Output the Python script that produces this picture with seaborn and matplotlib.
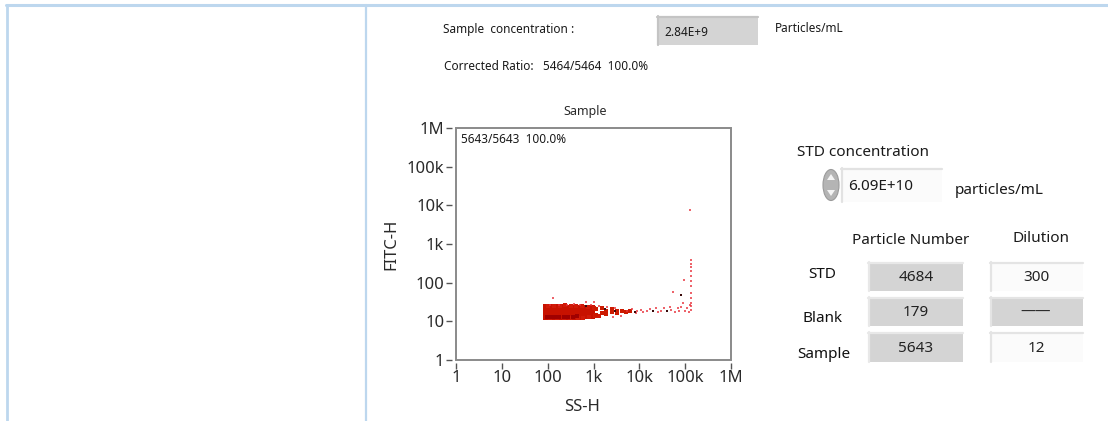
import matplotlib
matplotlib.use("Agg")
import matplotlib.pyplot as plt
import seaborn as sns
import pandas as pd
from matplotlib.patches import Rectangle, Ellipse, Polygon
from matplotlib.lines import Line2D
from matplotlib.ticker import FixedLocator, FixedFormatter, NullLocator

# ---------------- data ----------------
tick_values = [1, 10, 100, 1000, 10000, 100000, 1000000]
tick_labels = ["1", "10", "100", "1k", "10k", "100k", "1M"]

# dense core of the SS-H / FITC-H cloud
core_x = [96, 125, 165, 220, 290, 385, 510, 680, 900,
          96, 125, 165, 220, 290, 385, 510, 680, 900,
          96, 125, 165, 220, 290, 385, 510, 680, 900]
core_y = [13.6, 13.6, 13.6, 13.6, 13.7, 13.8, 14.0, 14.2, 14.6,
          17.0, 17.0, 17.0, 17.0, 17.0, 17.0, 17.0, 17.2, 17.4,
          21.5, 21.5, 21.5, 21.5, 21.3, 21.2, 21.0, 20.8, 20.6]

# darker lower edge of the core
deep_x = [95, 118, 145, 180, 225, 280, 350, 430]
deep_y = [13.0, 13.0, 13.0, 13.1, 13.1, 13.2, 13.3, 13.5]

# ragged border of the core
edge_x = [100, 140, 190, 240, 330, 420, 560, 760, 1050,
          110, 160, 230, 300, 450, 600, 800, 1100, 1300]
edge_y = [24.5, 25.5, 24.8, 25.8, 24.6, 25.2, 24.4, 23.6, 22.5,
          12.0, 12.2, 11.9, 12.3, 12.1, 12.4, 12.8, 13.5, 14.0]

# thinning tail of the cloud
tail_x = [1150, 1150, 1500, 1500, 1900, 1900, 2500, 2500, 3200, 3300, 4200, 5000, 6200]
tail_y = [15, 21, 16.5, 22, 15.5, 19, 17, 20.5, 16.5, 19, 18, 17.5, 18.5]

# sparse events
sparse_x = [110, 132, 180, 260, 380, 520, 700, 1000, 900, 1300, 2000, 2600, 3000,
            4000, 5500, 7000, 8500, 9000, 11000, 12000, 15000, 17000, 20000, 23000,
            25000, 30000, 34000, 40000, 46000, 50000, 54000, 60000, 70000, 75000,
            80000, 88000, 95000, 100000, 110000, 120000,
            135000, 135000, 132000, 136000, 134000, 133000, 137000, 135000,
            136000, 134000, 137000, 135000, 130000, 128000]
sparse_y = [26, 40, 27, 26, 28, 27, 31, 32, 26, 25, 24, 13, 22,
            14, 19, 21, 16, 18, 20, 17, 19, 21, 18, 22,
            17, 19, 22, 18, 24, 20, 59, 17, 22, 18,
            24, 30, 118, 19, 22, 17,
            20, 25, 30, 40, 55, 80, 110, 150,
            200, 250, 300, 390, 26, 7800]

# dark (overlapping) events
dark_x = [700, 1800, 3000, 8000, 20000, 40000, 82000]
dark_y = [25, 21, 18, 17, 18, 19, 48]

events_total = "5643/5643  100.0%"
sample_conc = "2.84E+9"
corrected_ratio = "Corrected Ratio:   5464/5464  100.0%"
std_conc = "6.09E+10"
row_names = ["STD", "Blank", "Sample"]
particle_numbers = ["4684", "179", "5643"]
dilutions = ["300", "\u2014\u2014", "12"]

# ---------------- figure ----------------
sns.set_theme(style="white")
plt.rcParams["font.family"] = ["Noto Sans", "DejaVu Sans"]

W, H = 1108, 421
fig = plt.figure(figsize=(W / 100, H / 100), dpi=100)
fig.patch.set_facecolor("white")


def fx(x):
    return x / W


def fy(y):
    return 1 - y / H


def ftext(x, y, s, size, ha="left", color="#1a1a1a", **kw):
    fig.text(fx(x), fy(y), s, fontsize=size, ha=ha, va="center", color=color, **kw)


def box(x0, y0, x1, y1, face, edge_light):
    fig.add_artist(Rectangle((fx(x0), fy(y1)), fx(x1 - x0), (y1 - y0) / H,
                             transform=fig.transFigure, facecolor=face,
                             edgecolor="none", zorder=1))
    fig.add_artist(Line2D([fx(x0), fx(x1)], [fy(y0 + 1), fy(y0 + 1)],
                          transform=fig.transFigure, color=edge_light, lw=1.6, zorder=2))
    fig.add_artist(Line2D([fx(x0 + 1), fx(x0 + 1)], [fy(y0), fy(y1)],
                          transform=fig.transFigure, color=edge_light, lw=1.6, zorder=2))


# frame lines of the screenshot panel
line_c = "#bdd7ee"
fig.add_artist(Line2D([fx(6), fx(1108)], [fy(5), fy(5)], transform=fig.transFigure,
                      color=line_c, lw=2.2))
fig.add_artist(Line2D([fx(7), fx(7)], [fy(5), fy(421)], transform=fig.transFigure,
                      color=line_c, lw=2.0))
fig.add_artist(Line2D([fx(366), fx(366)], [fy(5), fy(421)], transform=fig.transFigure,
                      color=line_c, lw=1.6))

# ---------------- scatter axes ----------------
ax_l, ax_r, ax_t, ax_b = 456, 731, 128, 360
ax = fig.add_axes([fx(ax_l), fy(ax_b), fx(ax_r - ax_l), (ax_b - ax_t) / H])
ax.set_xscale("log")
ax.set_yscale("log")
ax.set_xlim(1, 1e6)
ax.set_ylim(1, 1e6)

df_core = pd.DataFrame({"SS-H": core_x, "FITC-H": core_y})
df_deep = pd.DataFrame({"SS-H": deep_x, "FITC-H": deep_y})
df_edge = pd.DataFrame({"SS-H": edge_x, "FITC-H": edge_y})
df_tail = pd.DataFrame({"SS-H": tail_x, "FITC-H": tail_y})
df_sparse = pd.DataFrame({"SS-H": sparse_x, "FITC-H": sparse_y})
df_dark = pd.DataFrame({"SS-H": dark_x, "FITC-H": dark_y})

sns.scatterplot(data=df_core, x="SS-H", y="FITC-H", ax=ax, marker="s", s=26,
                color="#c81200", linewidth=0, zorder=3)
sns.scatterplot(data=df_edge, x="SS-H", y="FITC-H", ax=ax, marker="s", s=7,
                color="#d01a08", linewidth=0, zorder=3)
sns.scatterplot(data=df_deep, x="SS-H", y="FITC-H", ax=ax, marker="s", s=10,
                color="#a00000", linewidth=0, zorder=4)
sns.scatterplot(data=df_tail, x="SS-H", y="FITC-H", ax=ax, marker="s", s=10,
                color="#cc1a00", linewidth=0, zorder=3)
sns.scatterplot(data=df_sparse, x="SS-H", y="FITC-H", ax=ax, marker="s", s=3,
                color="#e8303a", alpha=0.75, linewidth=0, zorder=3)
sns.scatterplot(data=df_dark, x="SS-H", y="FITC-H", ax=ax, marker="s", s=4,
                color="#3a0a0a", linewidth=0, zorder=5)

# axes styling: box frame + separated ticks
for sp in ax.spines.values():
    sp.set_visible(False)
ax.spines["left"].set_position(("outward", 3))
ax.spines["bottom"].set_position(("outward", 2))
ax.add_patch(Rectangle((0, 0), 1, 1, transform=ax.transAxes, fill=False,
                       edgecolor="#8a8a8a", lw=1.4, clip_on=False, zorder=6))

ax.xaxis.set_major_locator(FixedLocator(tick_values))
ax.xaxis.set_major_formatter(FixedFormatter(tick_labels))
ax.yaxis.set_major_locator(FixedLocator(tick_values))
ax.yaxis.set_major_formatter(FixedFormatter(tick_labels))
ax.xaxis.set_minor_locator(NullLocator())
ax.yaxis.set_minor_locator(NullLocator())
ax.tick_params(axis="both", which="major", length=4, width=1.0, color="#555555",
               labelsize=12, labelcolor="#2a2a2a", pad=1.5,
               bottom=True, left=True, top=False, right=False)

ax.set_xlabel("SS-H", fontsize=12, color="#2a2a2a")
ax.xaxis.set_label_coords((582 - ax_l) / (ax_r - ax_l), -(399 - ax_b) / (ax_b - ax_t))
ax.set_ylabel("FITC-H", fontsize=12, color="#2a2a2a")
ax.yaxis.set_label_coords(-(ax_l - 399) / (ax_r - ax_l), 0.5)
ax.set_title("Sample", fontsize=9, color="#2a2a2a",
             x=(585 - ax_l) / (ax_r - ax_l), pad=9)
ax.text(0.018, 0.95, events_total, transform=ax.transAxes, fontsize=8.5,
        color="#1a1a1a", ha="left", va="center")

# ---------------- UI panel texts ----------------
ftext(443, 30, "Sample  concentration :", 8.5)
box(657, 16, 758, 45, "#d4d4d4", "#c4c4c4")
ftext(664, 32, sample_conc, 8.5)
ftext(775, 29, "Particles/mL", 8.5)
ftext(444, 67, corrected_ratio, 8.5)

ftext(797, 153, "STD concentration", 11)
# spinner control
fig.add_artist(Ellipse((fx(831), fy(185)), fx(16), 31 / H, transform=fig.transFigure,
                       facecolor="#b4b4b4", edgecolor="#9a9a9a", lw=0.8, zorder=3))
fig.add_artist(Polygon([[fx(827), fy(180)], [fx(835), fy(180)], [fx(831), fy(174)]],
                       closed=True, transform=fig.transFigure, facecolor="#f4f4f4",
                       edgecolor="none", zorder=4))
fig.add_artist(Polygon([[fx(827), fy(190)], [fx(835), fy(190)], [fx(831), fy(196)]],
                       closed=True, transform=fig.transFigure, facecolor="#f4f4f4",
                       edgecolor="none", zorder=4))
box(841, 168, 942, 202, "#fbfbfb", "#e2e2e2")
ftext(848, 187, std_conc, 11)
ftext(955, 191, "particles/mL", 11)

ftext(852, 241, "Particle Number", 11)
ftext(1012, 238, "Dilution", 11)

row_y = [(262, 291), (297, 326), (332, 362)]
label_pos = [(822, 275), (822, 319), (824, 355)]
dil_face = ["#fbfbfb", "#d4d4d4", "#fbfbfb"]
for i, name in enumerate(row_names):
    y0, y1 = row_y[i]
    ym = (y0 + y1) / 2
    ftext(label_pos[i][0], label_pos[i][1], name, 11, ha="center", color="#111111")
    box(868, y0, 963, y1, "#d4d4d4", "#e8e8e8")
    ftext(916, ym + 1, particle_numbers[i], 11, ha="center", color="#222222")
    box(990, y0, 1083, y1, dil_face[i], "#e4e4e4")
    ftext(1036, ym + 1, dilutions[i], 11, ha="center", color="#222222")

fig.savefig("out.png", dpi=100, facecolor="white")
